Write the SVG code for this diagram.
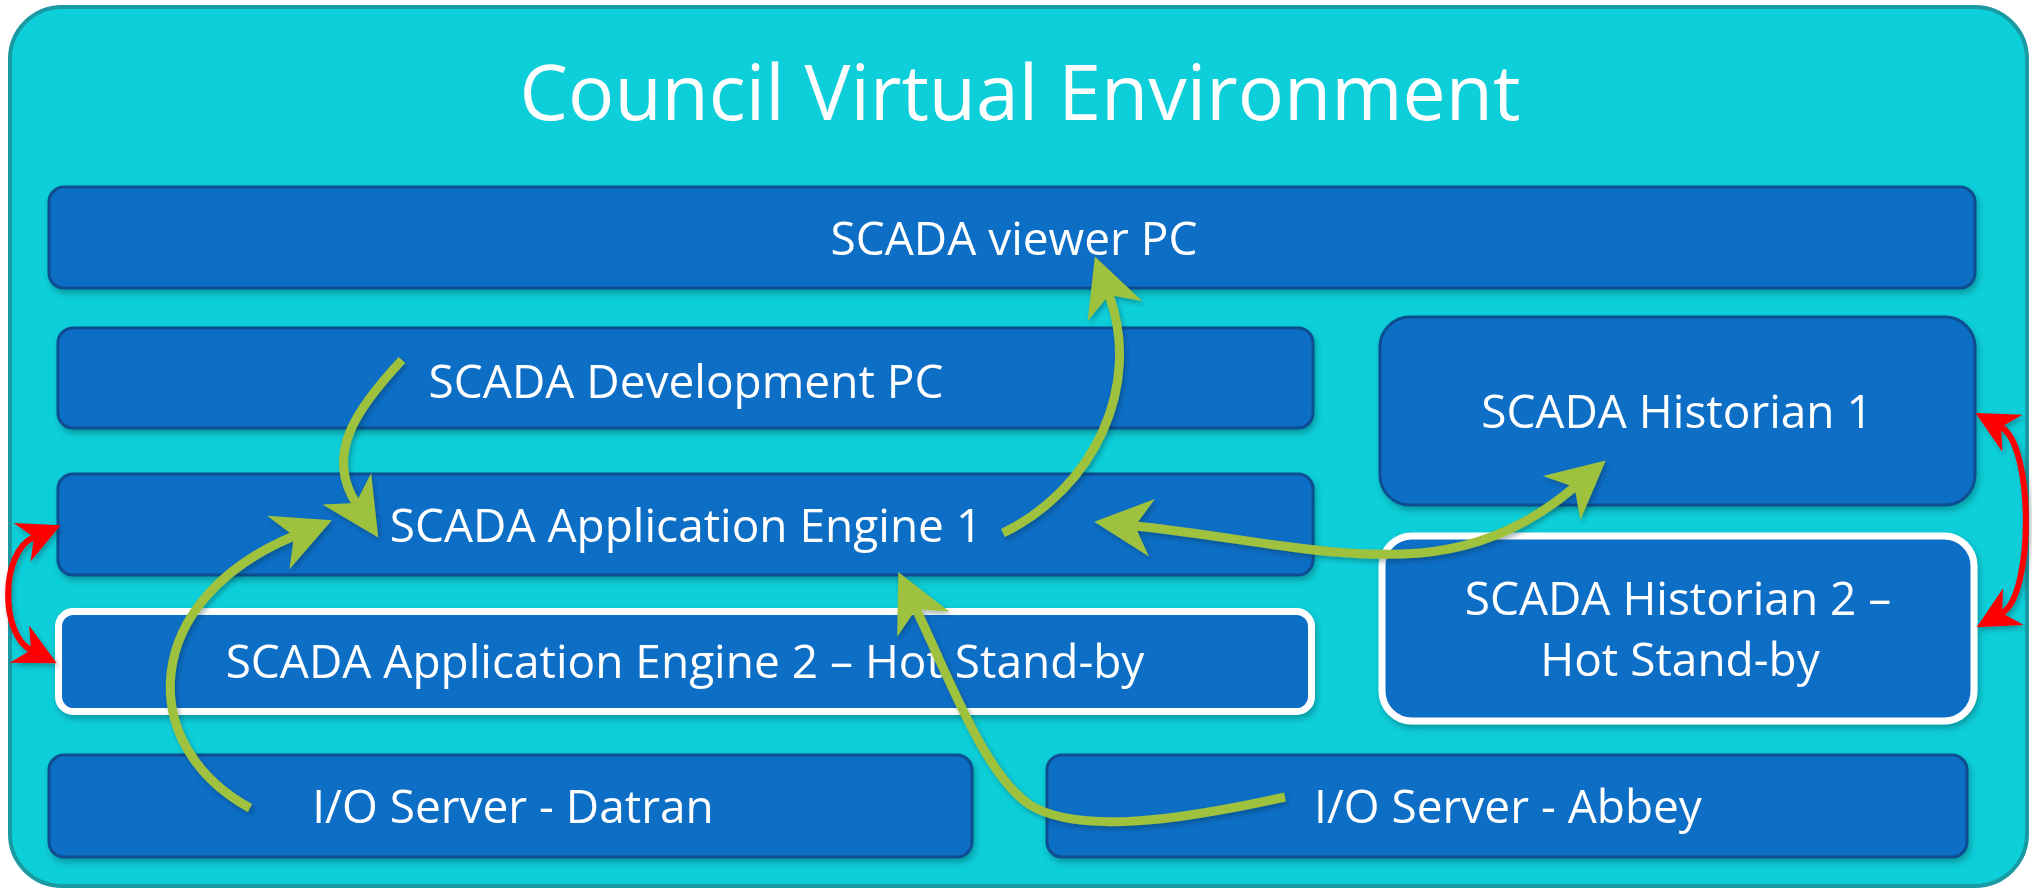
<svg xmlns="http://www.w3.org/2000/svg" width="2032" height="890" viewBox="0 0 2032 890">
  <defs>
    <style>
      .box { fill: #106EC6; stroke: #0B4E90; stroke-width: 3; }
      .hot { fill: #106EC6; stroke: #FFFFFF; stroke-width: 7; }
      .lbl { font-family: "Open Sans", "Noto Sans", "Liberation Sans", sans-serif; font-size: 46px; fill: #FFFFFF; text-anchor: middle; }
      .title { font-family: "Open Sans", "Noto Sans", "Liberation Sans", sans-serif; font-size: 77px; fill: #FFFFFF; text-anchor: middle; }
      .green { fill: none; stroke: #9EC23E; stroke-width: 9; }
      .red { fill: none; stroke: #FF0000; stroke-width: 6; }
    </style>
    <filter id="shadow" x="-10%" y="-10%" width="120%" height="130%">
      <feDropShadow dx="2" dy="4" stdDeviation="3" flood-color="#00303a" flood-opacity="0.35"/>
    </filter>
    <filter id="ashadow" x="-20%" y="-20%" width="140%" height="140%">
      <feDropShadow dx="2" dy="3" stdDeviation="2.5" flood-color="#002a30" flood-opacity="0.35"/>
    </filter>
    <marker id="gh" markerUnits="userSpaceOnUse" viewBox="-22 -32 68 64" refX="0" refY="0" markerWidth="68" markerHeight="64" orient="auto-start-reverse">
      <path d="M41,0 L-17,-29 L0,0 L-17,29 Z" fill="#9EC23E"/>
    </marker>
    <marker id="rh" markerUnits="userSpaceOnUse" viewBox="-16 -24 48 48" refX="0" refY="0" markerWidth="48" markerHeight="48" orient="auto-start-reverse">
      <path d="M29,0 L-13,-21 L0,0 L-13,21 Z" fill="#FF0000"/>
    </marker>
  </defs>

  <g id="council-env">
    <rect x="10" y="7" width="2017" height="879" rx="52" ry="52" fill="#0DCFD9" stroke="#1A9AA2" stroke-width="4"/>
    <text class="title" x="1020" y="120">Council Virtual Environment</text>
  </g>

  <g filter="url(#shadow)">
    <g id="viewer-pc">
      <rect class="box" x="49" y="187" width="1926" height="101" rx="15"/>
      <text class="lbl" x="1014" y="255">SCADA viewer PC</text>
    </g>
    <g id="dev-pc">
      <rect class="box" x="58" y="328" width="1255" height="100" rx="15"/>
      <text class="lbl" x="686" y="398">SCADA Development PC</text>
    </g>
    <g id="app-engine-1">
      <rect class="box" x="58" y="474" width="1255" height="101" rx="15"/>
      <text class="lbl" x="686" y="542">SCADA Application Engine 1</text>
    </g>
    <g id="app-engine-2">
      <rect class="hot" x="58.5" y="611.5" width="1253" height="100" rx="15"/>
      <text class="lbl" x="685" y="678">SCADA Application Engine 2 – Hot Stand-by</text>
    </g>
    <g id="io-datran">
      <rect class="box" x="49" y="755" width="923" height="102" rx="15"/>
      <text class="lbl" x="513" y="823">I/O Server - Datran</text>
    </g>
    <g id="io-abbey">
      <rect class="box" x="1047" y="755" width="920" height="102" rx="15"/>
      <text class="lbl" x="1508" y="823">I/O Server - Abbey</text>
    </g>
    <g id="historian-1">
      <rect class="box" x="1380" y="317" width="595" height="188" rx="30"/>
      <text class="lbl" x="1677" y="428">SCADA Historian 1</text>
    </g>
    <g id="historian-2">
      <rect class="hot" x="1382" y="536" width="592" height="185" rx="30"/>
      <text class="lbl" x="1678" y="615">SCADA Historian 2 –</text>
      <text class="lbl" x="1680" y="676">Hot Stand-by</text>
    </g>
  </g>

  <g id="connectors" filter="url(#ashadow)">
    <path class="green" d="M402,360 C355,410 325,455 356,503" marker-end="url(#gh)"/>
    <path class="green" d="M250,808 C135,745 140,600 294,536" marker-end="url(#gh)"/>
    <path class="green" d="M1003,533 C1095,488 1142,385 1109,295" marker-end="url(#gh)"/>
    <path class="green" d="M1135,526 C1250,538 1330,560 1420,553 C1480,548 1530,525 1574.5,487" marker-start="url(#gh)" marker-end="url(#gh)"/>
    <path class="green" d="M1285,797 C1180,820 1080,835 1030,805 C985,775 950,680 916,609" marker-end="url(#gh)"/>
    <path class="red" d="M34,537 C0,552 0,634 31,650" marker-start="url(#rh)" marker-end="url(#rh)"/>
    <path class="red" d="M2001,427 C2034,445 2034,595 2002,613" marker-start="url(#rh)" marker-end="url(#rh)"/>
  </g>
</svg>
